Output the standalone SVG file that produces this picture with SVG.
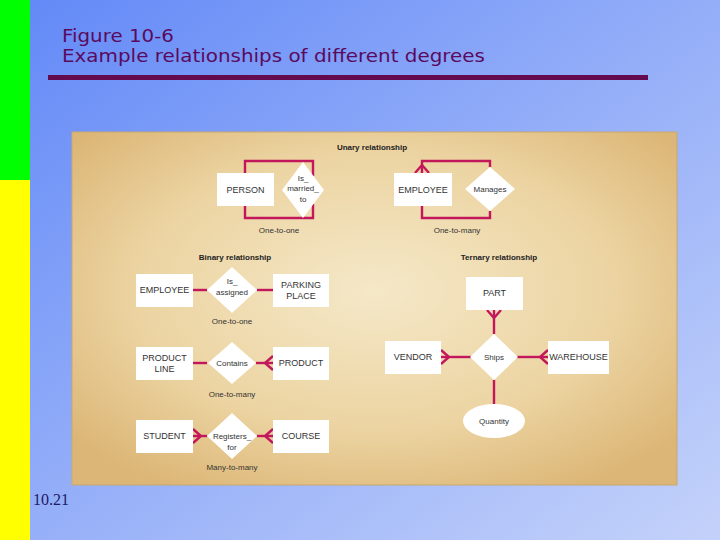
<svg xmlns="http://www.w3.org/2000/svg" width="720" height="540" viewBox="0 0 720 540">
<defs>
<linearGradient id="bg" x1="0" y1="0" x2="1" y2="1">
<stop offset="0" stop-color="#6188f7"/>
<stop offset="0.5" stop-color="#94aef8"/>
<stop offset="1" stop-color="#c4d2fa"/>
</linearGradient>
<radialGradient id="panel" cx="0.5" cy="0.45" r="0.65">
<stop offset="0" stop-color="#f5e8c8"/>
<stop offset="0.6" stop-color="#ecd4a2"/>
<stop offset="1" stop-color="#dcb676"/>
</radialGradient>
<style>
.box{fill:#ffffff;stroke:none}
.dia{fill:#ffffff;stroke:none}
.lbl{font-family:"Liberation Sans",Arial,sans-serif;font-size:9px;fill:#333333;text-anchor:middle}
.sm{font-family:"Liberation Sans",Arial,sans-serif;font-size:8px;fill:#333333;text-anchor:middle}
.hd{font-family:"Liberation Sans",Arial,sans-serif;font-size:8px;font-weight:bold;fill:#222222;text-anchor:middle}
.ln{fill:none;stroke:#c2185b;stroke-width:2.4}
.title{font-family:"DejaVu Sans","Liberation Sans",sans-serif;font-size:17px;fill:#5a0a5e}
</style>
</defs>
<rect x="0" y="0" width="720" height="540" fill="url(#bg)"/>
<rect x="0" y="0" width="30" height="180" fill="#00ff00"/>
<rect x="0" y="180" width="30" height="360" fill="#ffff00"/>
<text class="title" x="62" y="42" textLength="112" lengthAdjust="spacingAndGlyphs">Figure 10-6</text>
<text class="title" x="62" y="62" textLength="423" lengthAdjust="spacingAndGlyphs">Example relationships of different degrees</text>
<rect x="48" y="75" width="600" height="5" fill="#640a4e"/>
<rect x="72" y="132" width="605" height="353" fill="url(#panel)" stroke="#c9a76e" stroke-width="1"/>
<text x="33" y="505" font-family="Liberation Serif,serif" font-size="16" fill="#1a1a6a">10.21</text>

<text class="hd" x="372" y="150">Unary relationship</text>
<text class="hd" x="235" y="260">Binary relationship</text>
<text class="hd" x="499" y="260">Ternary relationship</text>

<g id="connectors">
<polyline class="ln" points="245,173 245,161 313,161 313,176"/>
<polyline class="ln" points="245,206 245,218 313,218 313,204"/>
<polyline class="ln" points="422,173 422,161 490,161 490,167"/>
<polyline class="ln" points="422,206 422,218 490,218 490,211"/>
<polyline class="ln" points="415,173 422,165 429,173"/>
<line class="ln" x1="193" y1="290" x2="207" y2="290"/>
<line class="ln" x1="257" y1="290" x2="273" y2="290"/>
<line class="ln" x1="193" y1="363" x2="207" y2="363"/>
<line class="ln" x1="256" y1="363" x2="273" y2="363"/>
<polyline class="ln" points="273,356 265,363 273,370"/>
<line class="ln" x1="193" y1="436" x2="207" y2="436"/>
<polyline class="ln" points="193,429 201,436 193,443"/>
<line class="ln" x1="257" y1="436" x2="273" y2="436"/>
<polyline class="ln" points="273,429 265,436 273,443"/>
<line class="ln" x1="494" y1="310" x2="494" y2="334"/>
<polyline class="ln" points="487,310 494,318 501,310"/>
<line class="ln" x1="441" y1="357" x2="471" y2="357"/>
<polyline class="ln" points="441,350 449,357 441,364"/>
<line class="ln" x1="517" y1="357" x2="548" y2="357"/>
<polyline class="ln" points="548,350 540,357 548,364"/>
<line class="ln" x1="494" y1="380" x2="494" y2="405"/>
</g>

<g id="person"><rect class="box" x="217" y="173" width="57" height="33"/><text class="lbl" x="245.5" y="193">PERSON</text></g>
<g id="is_married_to"><polygon class="dia" points="303,162 324,190 303,218 282,190"/><text class="sm" x="303" y="181">Is_</text><text class="sm" x="303" y="191">married_</text><text class="sm" x="303" y="202">to</text></g>
<text class="sm" x="279" y="233">One-to-one</text>

<g id="employee_u"><rect class="box" x="394" y="173" width="58" height="33"/><text class="lbl" x="423" y="193">EMPLOYEE</text></g>
<g id="manages"><polygon class="dia" points="490,167 515,189 490,211 465,189"/><text class="sm" x="490" y="192">Manages</text></g>
<text class="sm" x="457" y="233">One-to-many</text>

<g id="employee_b"><rect class="box" x="136" y="274" width="57" height="33"/><text class="lbl" x="164.5" y="293">EMPLOYEE</text></g>
<g id="is_assigned"><polygon class="dia" points="232,267 257,290 232,313 207,290"/><text class="sm" x="232" y="284">Is_</text><text class="sm" x="232" y="295">assigned</text></g>
<g id="parking_place"><rect class="box" x="273" y="274" width="56" height="33"/><text class="lbl" x="301" y="288">PARKING</text><text class="lbl" x="301" y="299">PLACE</text></g>
<text class="sm" x="232" y="324">One-to-one</text>

<g id="product_line"><rect class="box" x="136" y="347" width="57" height="33"/><text class="lbl" x="164.5" y="361">PRODUCT</text><text class="lbl" x="164.5" y="372">LINE</text></g>
<g id="contains"><polygon class="dia" points="232,342 256,363 232,384 208,363"/><text class="sm" x="232" y="366">Contains</text></g>
<g id="product"><rect class="box" x="273" y="347" width="56" height="33"/><text class="lbl" x="301" y="366">PRODUCT</text></g>
<text class="sm" x="232" y="397">One-to-many</text>

<g id="student"><rect class="box" x="136" y="420" width="57" height="33"/><text class="lbl" x="164.5" y="439">STUDENT</text></g>
<g id="registers_for"><polygon class="dia" points="232,413 257,436 232,459 207,436"/><text class="sm" x="232" y="439">Registers_</text><text class="sm" x="232" y="450">for</text></g>
<g id="course"><rect class="box" x="273" y="420" width="56" height="33"/><text class="lbl" x="301" y="439">COURSE</text></g>
<text class="sm" x="232" y="470">Many-to-many</text>

<g id="part"><rect class="box" x="466" y="277" width="57" height="33"/><text class="lbl" x="494.5" y="296">PART</text></g>
<g id="ships"><polygon class="dia" points="494,334 518,357 494,380 470,357"/><text class="sm" x="494" y="360">Ships</text></g>
<g id="vendor"><rect class="box" x="385" y="341" width="56" height="33"/><text class="lbl" x="413" y="360">VENDOR</text></g>
<g id="warehouse"><rect class="box" x="548" y="341" width="61" height="33"/><text class="lbl" x="578.5" y="360">WAREHOUSE</text></g>
<g id="quantity"><ellipse cx="494" cy="421" rx="31" ry="17" fill="#ffffff"/><text class="sm" x="494" y="424">Quantity</text></g>
</svg>
